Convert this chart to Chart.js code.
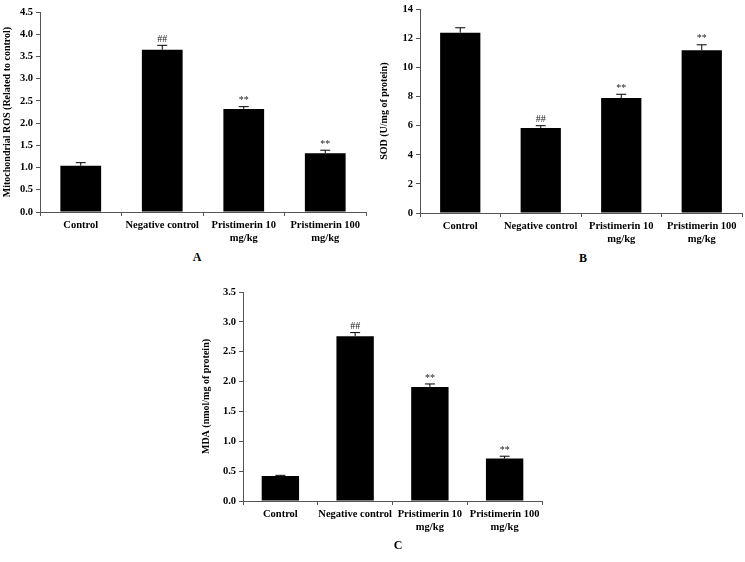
<!DOCTYPE html>
<html>
<head>
<meta charset="utf-8">
<script src="https://cdn.jsdelivr.net/npm/chart.js@4"></script>
<style>
  body { margin: 0; background: #fff; }
  #wrap { position: relative; width: 745px; height: 562px; }
  canvas { position: absolute; }
  .panel { position: absolute; font: bold 12px "Liberation Serif", serif; transform: translateX(-50%); }
</style>
</head>
<body>
<div id="wrap">
  <canvas id="chartA" style="left:0px;top:0px"></canvas>
  <canvas id="chartB" style="left:375px;top:0px"></canvas>
  <canvas id="chartC" style="left:195px;top:270px"></canvas>
  <div class="panel" style="left:197px;top:250px">A</div>
  <div class="panel" style="left:583px;top:251px">B</div>
  <div class="panel" style="left:398px;top:538px">C</div>
</div>
<script>
var categories = ['Control', 'Negative control', ['Pristimerin 10', 'mg/kg'], ['Pristimerin 100', 'mg/kg']];

var rosValues = [1.04, 3.65, 2.32, 1.32];
var rosErrors = [0.07, 0.10, 0.05, 0.07];
var rosMarks = ['', '##', '**', '**'];

var sodValues = [12.39, 5.85, 7.90, 11.19];
var sodErrors = [0.34, 0.15, 0.26, 0.37];
var sodMarks = ['', '##', '**', '**'];

var mdaValues = [0.42, 2.76, 1.91, 0.71];
var mdaErrors = [0.01, 0.06, 0.05, 0.04];
var mdaMarks = ['', '##', '**', '**'];

var serif = '"Liberation Serif", "Times New Roman", serif';
var axisColor = '#555';

// one-sided error bars plus significance marks, placed with the chart's own scales
var errorBars = {
    id: 'errorBars',
    afterDatasetsDraw: function(chart) {
        var ctx = chart.ctx;
        var yScale = chart.scales.y;
        var ds = chart.data.datasets[0];
        chart.getDatasetMeta(0).data.forEach(function(bar, i) {
            var yTop = yScale.getPixelForValue(ds.data[i] + ds.errors[i]);
            ctx.save();
            ctx.strokeStyle = '#000';
            ctx.lineWidth = 1;
            ctx.beginPath();
            ctx.moveTo(bar.x, bar.y);
            ctx.lineTo(bar.x, yTop);
            ctx.moveTo(bar.x - 5, yTop);
            ctx.lineTo(bar.x + 5, yTop);
            ctx.stroke();
            if (ds.marks[i]) {
                ctx.fillStyle = '#222';
                ctx.font = '10px ' + serif;
                ctx.textAlign = 'center';
                ctx.textBaseline = 'bottom';
                ctx.fillText(ds.marks[i], bar.x, yTop - 1);
            }
            ctx.restore();
        });
    }
};

function makeChart(id, w, h, values, errors, marks, yTitle, yMax, step, decimals, axisW, titlePad, padTop, padRight, plotBottom) {
    var canvas = document.getElementById(id);
    canvas.width = w;
    canvas.height = h;
    return new Chart(canvas.getContext('2d'), {
        type: 'bar',
        plugins: [errorBars],
        data: {
            labels: categories,
            datasets: [{
                data: values,
                errors: errors,
                marks: marks,
                backgroundColor: '#000',
                borderWidth: 0,
                categoryPercentage: 1.0,
                barPercentage: 0.5
            }]
        },
        options: {
            responsive: false,
            animation: false,
            layout: { padding: { top: padTop, right: padRight, left: 0, bottom: 0 } },
            plugins: { legend: { display: false }, tooltip: { enabled: false } },
            scales: {
                x: {
                    afterFit: function(scale) { scale.height = h - plotBottom; },
                    grid: { drawOnChartArea: false, tickLength: 4, color: axisColor, offset: true },
                    border: { color: axisColor },
                    ticks: {
                        color: '#000', padding: 2, maxRotation: 0, autoSkip: false,
                        font: { family: serif, size: 10.5, weight: 'bold', lineHeight: 1.3 }
                    }
                },
                y: {
                    min: 0,
                    max: yMax,
                    afterFit: function(scale) { scale.width = axisW; },
                    grid: { drawOnChartArea: false, tickLength: 4, color: axisColor },
                    border: { color: axisColor },
                    ticks: {
                        stepSize: step, color: '#000', padding: 3,
                        font: { family: serif, size: 10.5, weight: 'bold' },
                        callback: function(v) { return v.toFixed(decimals); }
                    },
                    title: {
                        display: true, text: yTitle, color: '#000', padding: titlePad,
                        font: { family: serif, size: 10, weight: 'bold' }
                    }
                }
            }
        }
    });
}

makeChart('chartA', 372, 250, rosValues, rosErrors, rosMarks,
    'Mitochondrial ROS (Related to control)', 4.5, 0.5, 1, 40, 1, 12, 6, 212);
makeChart('chartB', 370, 250, sodValues, sodErrors, sodMarks,
    'SOD (U/mg of protein)', 14, 2, 0, 45, 3, 7, 3, 213);
makeChart('chartC', 355, 270, mdaValues, mdaErrors, mdaMarks,
    'MDA (nmol/mg of protein)', 3.5, 0.5, 1, 48, 5, 22, 8, 231);
</script>
</body>
</html>
